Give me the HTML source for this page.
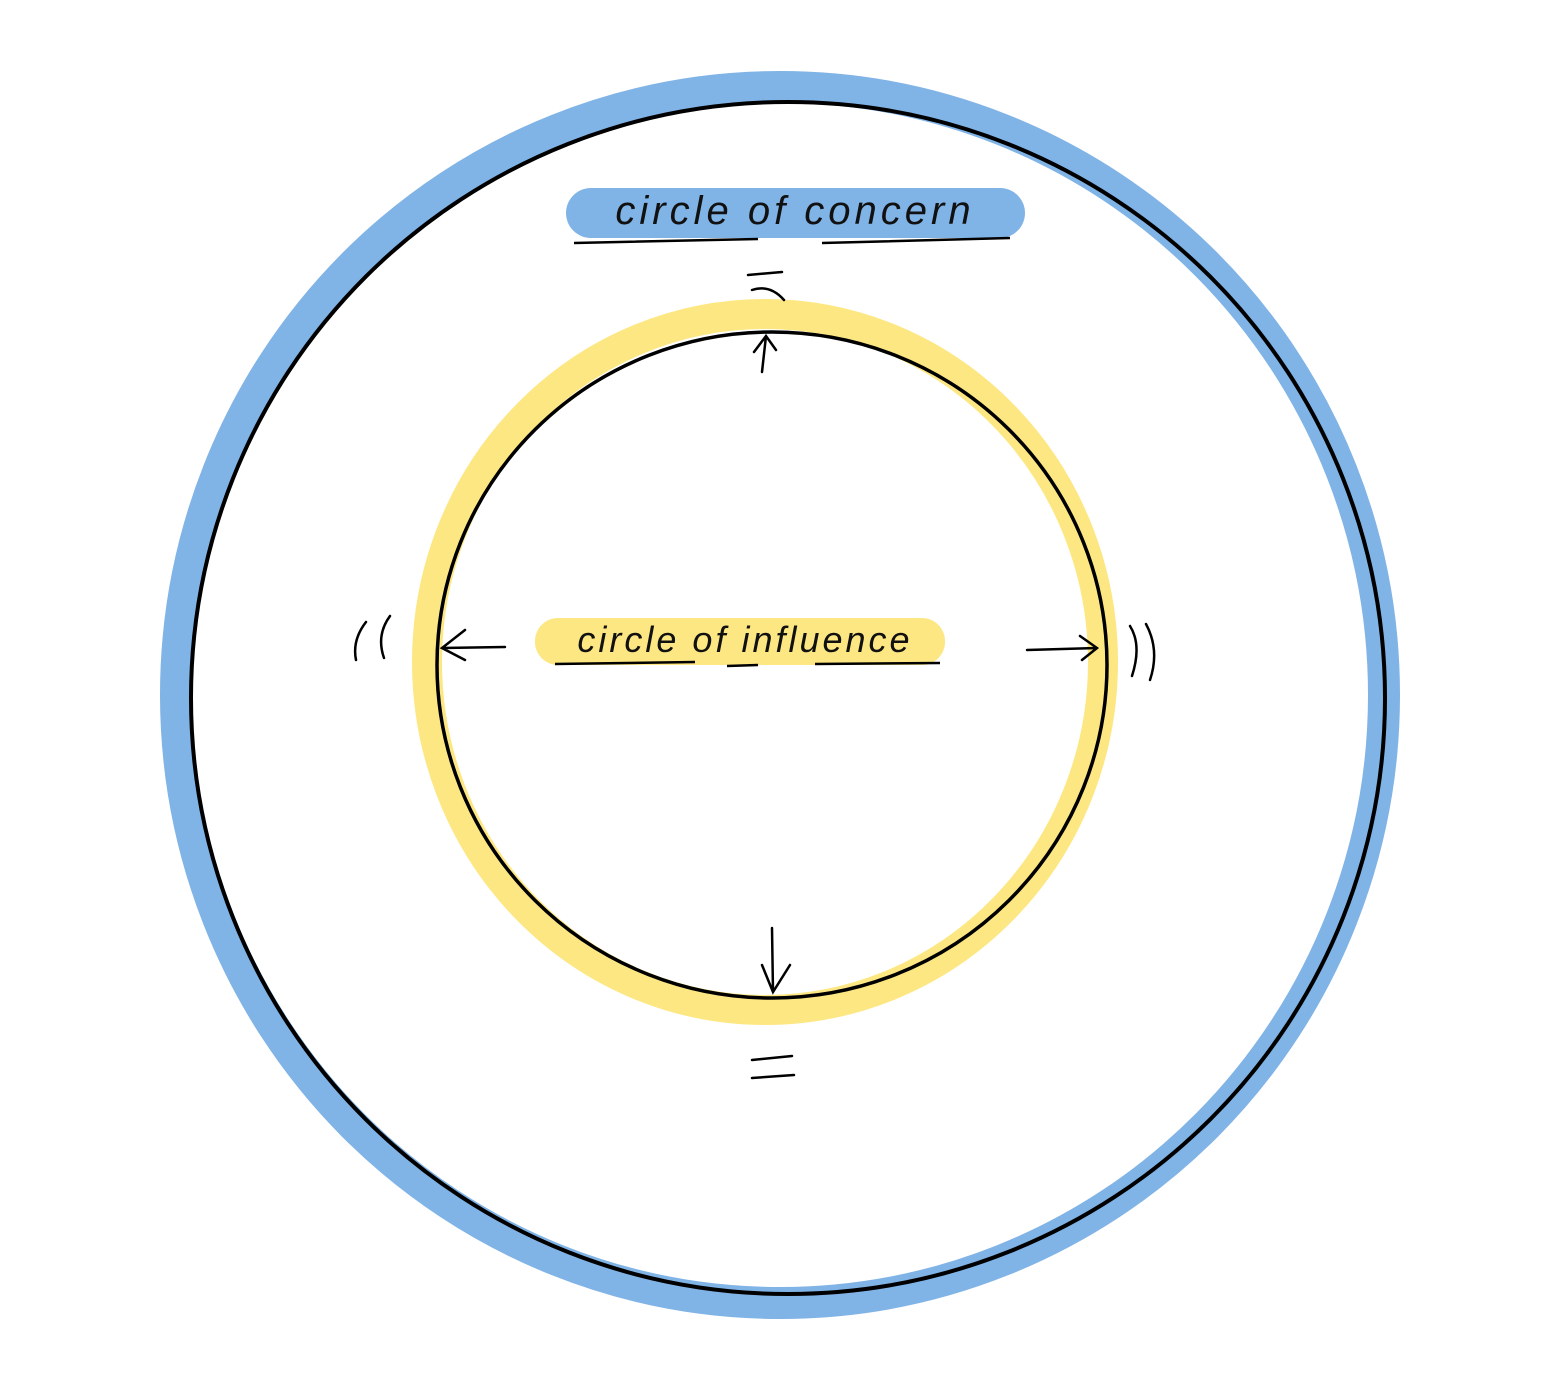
<!DOCTYPE html>
<html><head><meta charset="utf-8"><style>
html,body{margin:0;padding:0;background:#fff;}
svg{display:block}
</style></head><body>
<svg width="1562" height="1393" viewBox="0 0 1562 1393" xmlns="http://www.w3.org/2000/svg">
<!-- blue band -->
<ellipse cx="780" cy="695" rx="604" ry="608" fill="none" stroke="#80b3e6" stroke-width="32"/>
<ellipse cx="788" cy="698" rx="597" ry="596" fill="none" stroke="#000" stroke-width="4"/>
<!-- yellow band -->
<ellipse cx="765" cy="662" rx="338" ry="348" fill="none" stroke="#fde783" stroke-width="30"/>
<ellipse cx="772" cy="665" rx="335" ry="333" fill="none" stroke="#000" stroke-width="3.5"/>
<!-- label pills -->
<rect x="566" y="188" width="459" height="50" rx="25" fill="#80b3e6"/>
<text x="795" y="224" text-anchor="middle" font-family="Liberation Sans, sans-serif" font-style="italic" font-size="40" letter-spacing="4" fill="#111">circle of concern</text>
<path d="M574 243 L758 239 M822 243 L1010 238" stroke="#000" stroke-width="2.5" fill="none"/>
<rect x="535" y="618" width="410" height="47" rx="23" fill="#fde783"/>
<text x="745" y="652" text-anchor="middle" font-family="Liberation Sans, sans-serif" font-style="italic" font-size="36" letter-spacing="3" fill="#111">circle of influence</text>
<path d="M555 664 L695 662 M727 666 L758 665 M815 664 L940 663" stroke="#000" stroke-width="2.5" fill="none"/>
<!-- arrows -->
<g stroke="#000" stroke-width="2.5" fill="none" stroke-linecap="round">
<path d="M762 372 L766 336 M754 352 L766 336 L776 350"/>
<path d="M772 928 L773 992 M762 965 L773 992 L790 965"/>
<path d="M505 647 L442 648 M465 630 L442 648 L465 660"/>
<path d="M1027 650 L1097 648 M1080 636 L1097 648 L1082 660"/>
<path d="M748 275 L782 272 M752 290 Q770 284 784 300"/>
<path d="M752 1060 L792 1056 M752 1078 L794 1075"/>
<path d="M366 622 Q352 640 356 660 M390 616 Q376 635 384 658"/>
<path d="M1130 626 Q1142 645 1132 676 M1146 624 Q1160 650 1150 680"/>
</g>
</svg>
</body></html>
